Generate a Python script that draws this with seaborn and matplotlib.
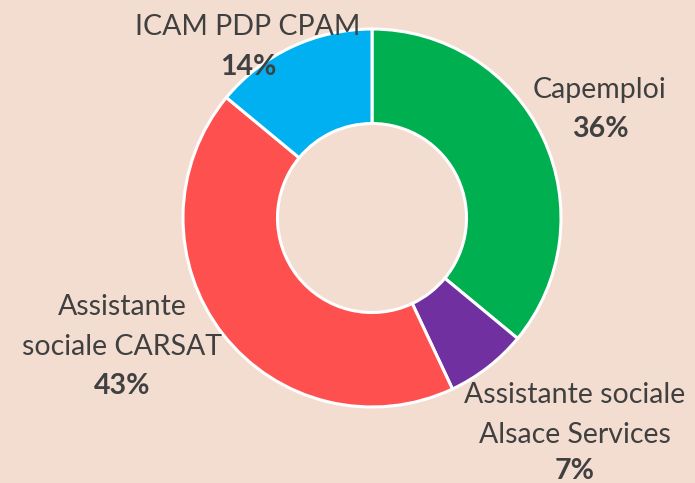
import seaborn as sns
import matplotlib.pyplot as plt

# data
categories = ["Capemploi", "Assistante sociale\nAlsace Services", "Assistante\nsociale CARSAT", "ICAM PDP CPAM"]
values = [36, 7, 43, 14]
colors = ["#00B050", "#7030A0", "#FF5050", "#00B0F0"]

sns.set_theme(style="white")
plt.rcParams['font.family'] = ['Lato', 'DejaVu Sans']

bg = "#F3DDD1"
fig = plt.figure(figsize=(6.95, 4.83), dpi=100, facecolor=bg)
# pie centre ~ (372, 218) px, radius ~189 px
W, H = 695, 483
cx, cy, r = 372, 218, 189
ax = fig.add_axes([(cx - r) / W, (H - cy - r) / H, 2 * r / W, 2 * r / H])
ax.set_facecolor(bg)

ax.pie(values, colors=colors, startangle=90, counterclock=False,
       wedgeprops=dict(width=0.5, edgecolor="white", linewidth=2.2))
ax.set_xlim(-1, 1)
ax.set_ylim(-1, 1)
ax.set_aspect("equal")
ax.axis("off")

# label positions (pixel baselines for each line)
label_pos = [
    (600, [98, 137]),
    (575, [403, 443, 479]),
    (122, [315, 355, 394]),
    (248, [35, 75]),
]
txt = "#404040"
for cat, v, (px, ys) in zip(categories, values, label_pos):
    lines = cat.split("\n") + [f"{v}%"]
    for i, (line, py) in enumerate(zip(lines, ys)):
        bold = i == len(lines) - 1
        ax.text((px - cx) / r, (cy - py) / r, line, ha="center", va="baseline",
                fontsize=20.5, color=txt, fontweight="bold" if bold else "normal",
                clip_on=False)

fig.savefig("out.png", dpi=100, facecolor=bg)
